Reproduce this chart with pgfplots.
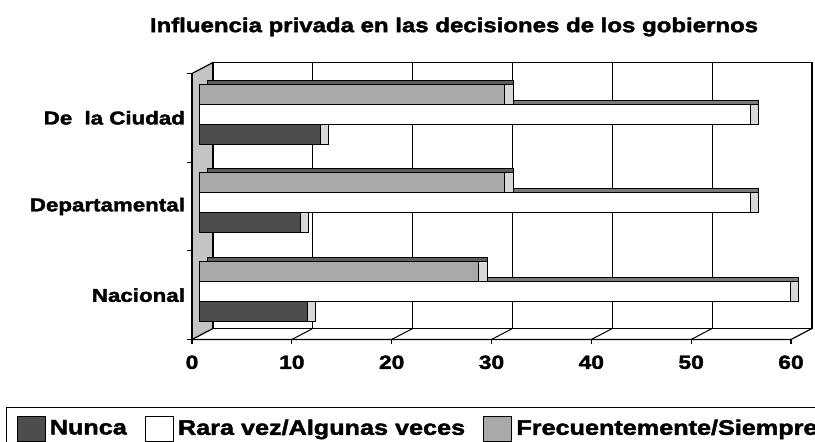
\documentclass[border=0pt]{standalone}
\usepackage{fontspec}
\setmainfont{Liberation Sans}[FakeStretch=1.2, BoldFeatures={FakeBold=2}]
\usepackage{pgfplots}
\usepackage{pgfplotstable}
\pgfplotsset{compat=1.18}
\def\s{0.5pt}
\definecolor{nunca}{HTML}{4D4D4D}
\definecolor{frec}{HTML}{A8A8A8}
\definecolor{wall}{HTML}{C4C4C4}
\definecolor{side}{HTML}{D8D8D8}
\definecolor{topN}{HTML}{2E2E2E}
\definecolor{topR}{HTML}{7A7A7A}
\definecolor{topF}{HTML}{5E5E5E}

\pgfplotstableread{
y nunca rara frec
0 10.8 59.2 28.0
1 10.1 55.2 30.6
2 12.1 55.2 30.6
}\datatable

\pgfplotsset{
  barbase/.style={xbar, bar width=0.2255, draw=black, line width=0.5pt, forget plot},
  sq/.style={legend image code/.code={\draw[##1, line width=0.6pt] (0pt,-6.25pt) rectangle (14pt,6.25pt);}},
}

\begin{document}
\begin{tikzpicture}
\begin{axis}[
  name=ax,
  scale only axis, width=299.5pt, height=133pt,
  xmin=0, xmax=60, ymin=-0.5, ymax=2.5,
  axis x line*=bottom, axis y line*=left,
  axis line style={line width=0.6pt},
  xtick={0,10,...,60},
  ytick={-0.5,0.5,1.5,2.5}, yticklabels={},
  extra y ticks={0,1,2},
  extra y tick labels={Nacional,Departamental,De\hspace{3pt} la Ciudad},
  extra y tick style={major tick length=0pt},
  tick align=outside, major tick length=2.5pt,
  tick style={black, line width=0.6pt},
  /pgf/number format/assume math mode=true,
  xticklabel style={font=\bfseries\fontsize{9.5}{11}\selectfont, yshift=-2pt},
  yticklabel style={font=\bfseries\fontsize{9.3}{11}\selectfont},
  clip=false,
  legend style={at={(-0.3105,-0.2538)}, anchor=north west, legend columns=-1,
    draw=black, line width=0.6pt, inner xsep=5pt, inner ysep=4pt,
    font=\bfseries\fontsize{10.5}{12}\selectfont,
    /tikz/every even column/.append style={column sep=7pt}},
  legend cell align=left,
]
% left wall
\filldraw[fill=wall, draw=black, line width=0.6pt] (axis cs:0,-0.5) -- (axis cs:0,2.5)
  -- ([shift={(21*\s,11*\s)}]axis cs:0,2.5) -- ([shift={(21*\s,11*\s)}]axis cs:0,-0.5) -- cycle;
% back wall
\filldraw[fill=white, draw=black, line width=0.6pt] ([shift={(21*\s,11*\s)}]axis cs:0,-0.5) rectangle ([shift={(21*\s,11*\s)}]axis cs:60,2.5);
\pgfplotsinvokeforeach{10,20,30,40,50}{
  \draw[line width=0.6pt] ([shift={(21*\s,11*\s)}]axis cs:#1,-0.5) -- ([shift={(21*\s,11*\s)}]axis cs:#1,2.5);
}
% floor
\draw[line width=0.6pt] (axis cs:0,-0.5) -- (axis cs:60,-0.5) -- ([shift={(21*\s,11*\s)}]axis cs:60,-0.5);
\pgfplotsinvokeforeach{10,20,30,40,50}{
  \draw[line width=0.5pt] (axis cs:#1,-0.5) -- ([shift={(21*\s,11*\s)}]axis cs:#1,-0.5);
}
\draw[line width=0.6pt] (axis cs:0,-0.5) -- (axis cs:0,2.5);

% Nunca
\addplot[barbase, bar shift=-0.2255, fill=topN, xshift=15.8*\s, yshift=7.7*\s] table[x=nunca,y=y]{\datatable};
\addplot[barbase, bar shift=-0.2255, fill=side, xshift=15.8*\s, yshift=3.7*\s] table[x=nunca,y=y]{\datatable};
\addplot[barbase, bar shift=-0.2255, fill=nunca, xshift=7.3*\s, yshift=3.7*\s] table[x=nunca,y=y]{\datatable};
% Rara vez
\addplot[barbase, bar shift=0, fill=topR, xshift=15.8*\s, yshift=7.7*\s] table[x=rara,y=y]{\datatable};
\addplot[barbase, bar shift=0, fill=side, xshift=15.8*\s, yshift=3.7*\s] table[x=rara,y=y]{\datatable};
\addplot[barbase, bar shift=0, fill=white, xshift=7.3*\s, yshift=3.7*\s] table[x=rara,y=y]{\datatable};
% Frecuentemente
\addplot[barbase, bar shift=0.2255, fill=topF, xshift=15.8*\s, yshift=7.7*\s] table[x=frec,y=y]{\datatable};
\addplot[barbase, bar shift=0.2255, fill=side, xshift=15.8*\s, yshift=3.7*\s] table[x=frec,y=y]{\datatable};
\addplot[barbase, bar shift=0.2255, fill=frec, xshift=7.3*\s, yshift=3.7*\s] table[x=frec,y=y]{\datatable};

\addlegendimage{sq, fill=nunca}
\addlegendentry{Nunca}
\addlegendimage{sq, fill=white}
\addlegendentry{Rara vez/Algunas veces}
\addlegendimage{sq, fill=frec}
\addlegendentry{Frecuentemente/Siempre}
\end{axis}
\node[font=\bfseries\fontsize{10}{12}\selectfont] at ([shift={(262*\s,312.5*\s)}]ax.south west) {Influencia privada en las decisiones de los gobiernos};
\pgfresetboundingbox
\path[use as bounding box] ([shift={(-192*\s,-102.5*\s)}]ax.south west) rectangle ([shift={(623*\s,339.5*\s)}]ax.south west);
\end{tikzpicture}
\end{document}
